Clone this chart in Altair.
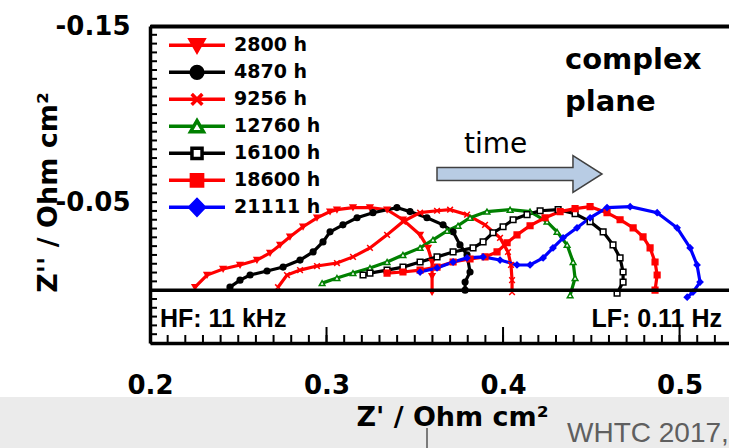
import altair as alt
import pandas as pd

names = ["2800 h", "4870 h", "9256 h", "12760 h", "16100 h", "18600 h", "21111 h"]

x_2800 = [0.2255, 0.2323, 0.2414, 0.2510, 0.2606, 0.2680, 0.2737, 0.2793, 0.2867, 0.2946, 0.3020,
          0.3059, 0.3150, 0.3246, 0.3343, 0.3433, 0.3530, 0.3575, 0.3598, 0.3598, 0.3598]
y_2800 = [-0.0017, -0.0086, -0.0120, -0.0143, -0.0171, -0.0211, -0.0257, -0.0303, -0.0360, -0.0411, -0.0446,
          -0.0457, -0.0469, -0.0469, -0.0457, -0.0400, -0.0314, -0.0240, -0.0160, -0.0080, 0.0011]

x_4870 = [0.2453, 0.2510, 0.2567, 0.2663, 0.2754, 0.2850, 0.2924, 0.2980, 0.3020, 0.3093, 0.3173,
          0.3263, 0.3399, 0.3473, 0.3569, 0.3660, 0.3717, 0.3756, 0.3796, 0.3813, 0.3785, 0.3785]
y_4870 = [-0.0017, -0.0057, -0.0086, -0.0109, -0.0131, -0.0171, -0.0217, -0.0274, -0.0331, -0.0371, -0.0411,
          -0.0440, -0.0469, -0.0446, -0.0411, -0.0371, -0.0331, -0.0257, -0.0200, -0.0103, -0.0046, 0.0]

x_9256 = [0.2725, 0.2776, 0.2850, 0.2946, 0.3059, 0.3150, 0.3246, 0.3343, 0.3433, 0.3530, 0.3626,
          0.3700, 0.3796, 0.3898, 0.3983, 0.4028, 0.4045, 0.4051, 0.4051]
y_9256 = [-0.0017, -0.0086, -0.0114, -0.0137, -0.0154, -0.0189, -0.0240, -0.0314, -0.0389, -0.0440, -0.0451,
          -0.0457, -0.0429, -0.0371, -0.0297, -0.0217, -0.0143, -0.0057, 0.0011]

x_12760 = [0.2975, 0.3059, 0.3150, 0.3246, 0.3343, 0.3433, 0.3530, 0.3603, 0.3683, 0.3745, 0.3813,
           0.3909, 0.4040, 0.4153, 0.4249, 0.4306, 0.4363, 0.4397, 0.4408, 0.4380]
y_12760 = [-0.0040, -0.0069, -0.0097, -0.0126, -0.0160, -0.0200, -0.0240, -0.0286, -0.0337, -0.0366, -0.0411,
           -0.0446, -0.0457, -0.0446, -0.0389, -0.0331, -0.0257, -0.0160, -0.0069, 0.0029]

x_16100 = [0.3207, 0.3246, 0.3343, 0.3433, 0.3530, 0.3626, 0.3717, 0.3830, 0.3887, 0.3943, 0.4000,
           0.4057, 0.4136, 0.4210, 0.4312, 0.4408, 0.4493, 0.4567, 0.4623, 0.4663, 0.4680, 0.4680, 0.4646]
y_16100 = [-0.0086, -0.0097, -0.0114, -0.0131, -0.0160, -0.0189, -0.0217, -0.0240, -0.0274, -0.0326, -0.0360,
           -0.0400, -0.0429, -0.0451, -0.0457, -0.0434, -0.0389, -0.0331, -0.0257, -0.0183, -0.0103, -0.0046, 0.0017]

x_18600 = [0.3343, 0.3433, 0.3530, 0.3626, 0.3717, 0.3813, 0.3898, 0.3966, 0.4023, 0.4079, 0.4153,
           0.4238, 0.4323, 0.4408, 0.4493, 0.4589, 0.4663, 0.4737, 0.4793, 0.4833, 0.4861, 0.4873, 0.4861]
y_18600 = [-0.0097, -0.0103, -0.0114, -0.0131, -0.0160, -0.0177, -0.0189, -0.0217, -0.0269, -0.0314, -0.0366,
           -0.0411, -0.0446, -0.0463, -0.0474, -0.0440, -0.0400, -0.0354, -0.0303, -0.0240, -0.0160, -0.0086, 0.0]

x_21111 = [0.3530, 0.3626, 0.3717, 0.3796, 0.3887, 0.3983, 0.4079, 0.4153, 0.4227, 0.4283, 0.4340,
           0.4419, 0.4493, 0.4589, 0.4720, 0.4873, 0.4986, 0.5060, 0.5099, 0.5116, 0.5076, 0.5043]
y_21111 = [-0.0103, -0.0126, -0.0160, -0.0183, -0.0189, -0.0171, -0.0143, -0.0143, -0.0183, -0.0240, -0.0297,
           -0.0354, -0.0411, -0.0469, -0.0474, -0.0440, -0.0354, -0.0240, -0.0143, -0.0046, 0.0011, 0.0040]

x_tick_labels = [0.2, 0.3, 0.4, 0.5]
y_tick_labels = [-0.15, -0.05]

series_x = [x_2800, x_4870, x_9256, x_12760, x_16100, x_18600, x_21111]
series_y = [y_2800, y_4870, y_9256, y_12760, y_16100, y_18600, y_21111]

rows = []
for name, xs, ys in zip(names, series_x, series_y):
    for i, (xv, yv) in enumerate(zip(xs, ys)):
        rows.append({"series": name, "x": xv, "y": yv, "i": i})
df = pd.DataFrame(rows)

RED, BLACK, GREEN, BLUE, WHITE = "#ff0000", "#000000", "#008000", "#0000ff", "#ffffff"
stroke_colors = [RED, BLACK, RED, GREEN, BLACK, RED, BLUE]
fill_colors = [RED, BLACK, RED, WHITE, WHITE, RED, BLUE]
point_shapes = ["triangle-down", "circle", "M-1,-1L1,1M-1,1L1,-1", "triangle-up", "square", "square", "diamond"]
legend_shapes = [
    "M-1,0L1,0M-0.24,-0.2L0.24,-0.2L0,0.22Z",
    "M-1,0L1,0M-0.21,0A0.21,0.21,0,1,1,0.21,0A0.21,0.21,0,1,1,-0.21,0Z",
    "M-1,0L1,0M-0.19,-0.19L0.19,0.19M-0.19,0.19L0.19,-0.19",
    "M-1,0L-0.12,0M0.12,0L1,0M0,-0.2L0.23,0.19L-0.23,0.19Z",
    "M-1,0L-0.18,0M0.18,0L1,0M-0.18,-0.18L0.18,-0.18L0.18,0.18L-0.18,0.18Z",
    "M-1,0L1,0M-0.2,-0.2L0.2,-0.2L0.2,0.2L-0.2,0.2Z",
    "M-1,0L1,0M0,-0.27L0.26,0L0,0.27L-0.26,0Z",
]

W, H = 579, 317
XDOM = [0.2, 0.528]
YDOM = [-0.15, 0.03]
xs_ = alt.Scale(domain=XDOM, nice=False, zero=False)
ys_ = alt.Scale(domain=YDOM, nice=False, zero=False, reverse=True)

x_minor = [round(0.2 + 0.01 * k, 2) for k in range(33)]
y_minor = [round(-0.15 + 0.005 * k, 3) for k in range(37)]

axis_bottom = alt.Axis(
    orient="bottom", values=x_tick_labels, format=".1f", ticks=False, grid=False,
    domain=True, domainColor="black", domainWidth=3.5,
    labelFont="DejaVu Sans", labelFontWeight="bold", labelFontSize=26, labelColor="black",
    labelPadding=29, labelFlush=False, labelOverlap=False,
    title="Z' / Ohm cm²", titleFont="DejaVu Sans", titleFontWeight="bold", titleFontSize=27,
    titleColor="black", titleX=302, titleY=82, titleAlign="center", titleBaseline="alphabetic",
    titleAngle=0, zindex=1,
)
axis_left = alt.Axis(
    orient="left", values=y_tick_labels, ticks=False, grid=False,
    labelExpr="datum.value < 0 ? '-' + format(-datum.value, '.2f') : format(datum.value, '.2f')",
    domain=True, domainColor="black", domainWidth=3.5,
    labelFont="DejaVu Sans", labelFontWeight="bold", labelFontSize=26, labelColor="black",
    labelPadding=20, labelFlush=False, labelOverlap=False,
    title="Z'' / Ohm cm²", titleFont="DejaVu Sans", titleFontWeight="bold", titleFontSize=27,
    titleColor="black", titleX=-94, titleY=166, titleAlign="center", titleBaseline="alphabetic",
    titleAngle=270, zindex=1,
)
axis_top_border = alt.Axis(orient="top", ticks=False, labels=False, grid=False, domain=True,
                           domainColor="black", domainWidth=4, title=None, zindex=1)

one = pd.DataFrame({"a": [0]})

band = alt.Chart(one).mark_rect(color="#ebebeb").encode(
    x=alt.value(-150), x2=alt.value(W), y=alt.value(371), y2=alt.value(H + 105))
vline = alt.Chart(one).mark_rule(color="#555555", strokeWidth=1.5).encode(
    x=alt.value(277), y=alt.value(402), y2=alt.value(H + 105))

# inward minor/major ticks along the left and bottom frame
yt = alt.Chart(pd.DataFrame({"v": y_minor})).mark_rule(color="black", strokeWidth=2).encode(
    y=alt.Y("v:Q", scale=ys_, axis=None), x=alt.value(0), x2=alt.value(7))
xt_minor = alt.Chart(pd.DataFrame({"v": x_minor})).mark_rule(color="black", strokeWidth=2).encode(
    x=alt.X("v:Q", scale=xs_, axis=None), y=alt.value(H), y2=alt.value(H - 8))
xt_major = alt.Chart(pd.DataFrame({"v": x_tick_labels})).mark_rule(color="black", strokeWidth=2).encode(
    x=alt.X("v:Q", scale=xs_, axis=None), y=alt.value(H), y2=alt.value(H - 16))

lines = alt.Chart(df).mark_line(strokeWidth=3.2).encode(
    x=alt.X("x:Q", scale=xs_, axis=axis_bottom),
    y=alt.Y("y:Q", scale=ys_, axis=axis_left),
    color=alt.Color("series:N", scale=alt.Scale(domain=names, range=stroke_colors), legend=None),
    order="i:Q",
)
points = alt.Chart(df).mark_point(filled=True, size=32, strokeWidth=1.5, opacity=1).encode(
    x=alt.X("x:Q", scale=xs_, axis=None),
    y=alt.Y("y:Q", scale=ys_, axis=None),
    shape=alt.Shape("series:N", scale=alt.Scale(domain=names, range=point_shapes), legend=None),
    fill=alt.Fill("series:N", scale=alt.Scale(domain=names, range=fill_colors), legend=None),
    stroke=alt.Stroke("series:N", scale=alt.Scale(domain=names, range=stroke_colors), legend=None),
)

zero_df = pd.DataFrame({"xa": [XDOM[0]], "xb": [XDOM[1]], "z": [0.0]})
zero = alt.Chart(zero_df).mark_rule(color="black", strokeWidth=3.5).encode(
    x=alt.X("xa:Q", scale=xs_, axis=axis_top_border),
    x2="xb:Q",
    y=alt.Y("z:Q", scale=ys_, axis=None),
)

leg = dict(orient="none", legendX=17, legendY=6, title=None, labelFont="DejaVu Sans", labelFontWeight="bold",
           labelFontSize=19, labelColor="black", symbolSize=3136, symbolStrokeWidth=3.5, clipHeight=26.7,
           rowPadding=0, labelOffset=7, padding=0, symbolOpacity=1)
empty = pd.DataFrame({"series": pd.Series([], dtype=str), "x": pd.Series([], dtype=float),
                      "y": pd.Series([], dtype=float)})
legend_layer = alt.Chart(empty).mark_point(filled=True, strokeWidth=3.5, opacity=1).encode(
    x=alt.X("x:Q", scale=xs_, axis=None),
    y=alt.Y("y:Q", scale=ys_, axis=None),
    shape=alt.Shape("series:N", scale=alt.Scale(domain=names, range=legend_shapes), legend=alt.Legend(**leg)),
    fill=alt.Fill("series:N", scale=alt.Scale(domain=names, range=fill_colors), legend=alt.Legend(**leg)),
    stroke=alt.Stroke("series:N", scale=alt.Scale(domain=names, range=stroke_colors), legend=alt.Legend(**leg)),
)

def label(txt, x, y, size, font="DejaVu Sans", weight="bold", align="left", color="black"):
    return alt.Chart(one).mark_text(text=txt, font=font, fontWeight=weight, fontSize=size, align=align,
                                    baseline="alphabetic", color=color).encode(x=alt.value(x), y=alt.value(y))

t_complex = label("complex", 415, 43, 29)
t_plane = label("plane", 415, 85, 29)
t_time = label("time", 314, 127, 28, weight="normal")
t_hf = label("HF: 11 kHz", 10, 301, 25, font="Liberation Sans")
t_lf = label("LF: 0.11 Hz", 572, 301, 25, font="Liberation Sans", align="right")
t_whtc = label("WHTC 2017,", 417, 416, 28, font="Liberation Sans", weight="normal", color="#5f5f5f")

arrow_path = "M-1,-0.079L0.648,-0.079L0.648,-0.224L1,0L0.648,0.224L0.648,0.079L-1,0.079Z"
arrow = alt.Chart(one).mark_point(shape=arrow_path, size=27225, filled=True, fill="#b8cce4",
                                  stroke="#404040", strokeWidth=1.5, opacity=1).encode(
    x=alt.value(369.5), y=alt.value(148))

chart = alt.layer(
    band, vline, yt, xt_minor, xt_major, lines, points, zero, legend_layer, arrow,
    t_complex, t_plane, t_time, t_hf, t_lf, t_whtc,
).resolve_scale(
    color="independent", shape="independent", fill="independent", stroke="independent"
).resolve_axis(
    x="independent", y="independent"
).properties(
    width=W, height=H,
    autosize=alt.AutoSizeParams(type="none"),
    padding={"left": 150, "top": 26, "right": 0, "bottom": 105},
).configure_view(stroke=None).configure_axis(grid=False)

chart.save("out.html", embed_options={"renderer": "svg", "actions": False})
